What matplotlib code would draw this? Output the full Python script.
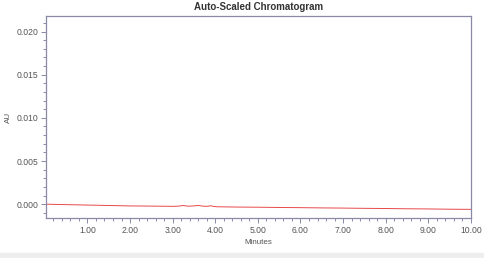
import matplotlib
matplotlib.use('Agg')
import matplotlib.pyplot as plt
from matplotlib.ticker import MultipleLocator

plt.rcParams['font.family'] = ['Liberation Sans', 'DejaVu Sans']

# Chromatogram trace (minutes, AU)
minutes = [0.03, 0.5, 1.0, 1.5, 2.0, 2.5, 3.0, 3.15, 3.25, 3.35, 3.5, 3.6, 3.7,
           3.8, 3.9, 3.95, 4.05, 4.5, 5.0, 5.5, 6.0, 6.5, 7.0, 7.5, 8.0, 8.5,
           9.0, 9.5, 10.0]
au = [0.0000, -0.00005, -0.0001, -0.00015, -0.0002, -0.00022, -0.00025,
      -0.00022, -0.00015, -0.00023, -0.0002, -0.00014, -0.00022, -0.00025,
      -0.00018, -0.00025, -0.0003, -0.00033, -0.00035, -0.00038, -0.0004,
      -0.00043, -0.00045, -0.00048, -0.0005, -0.00053, -0.00055, -0.00058,
      -0.0006]
x_ticks = [1, 2, 3, 4, 5, 6, 7, 8, 9, 10]
y_ticks = [0.000, 0.005, 0.010, 0.015, 0.020]

spine_col = '#8a8aa8'
text_col = '#555555'

fig = plt.figure(figsize=(4.85, 2.58), dpi=100)
fig.patches.append(plt.Rectangle((0, 0), 1, 0.02, transform=fig.transFigure,
                                 color='#eeeeee', zorder=0))
ax = fig.add_axes([0.095, 0.155, 0.876, 0.783])

ax.plot(minutes, au, color='#e8494b', lw=0.7)

ax.set_xlim(0.03, 10.0)
ax.set_ylim(-0.0016, 0.0218)
ax.set_xticks(x_ticks)
ax.set_xticklabels(['%.2f' % t for t in x_ticks])
ax.set_yticks(y_ticks)
ax.set_yticklabels(['%.3f' % t for t in y_ticks])
ax.xaxis.set_minor_locator(MultipleLocator(0.2))
ax.yaxis.set_minor_locator(MultipleLocator(0.001))

for s in ax.spines.values():
    s.set_color(spine_col)
    s.set_linewidth(0.9)
ax.tick_params(which='both', colors=spine_col, labelcolor=text_col,
               labelsize=6.2, width=0.7)
ax.tick_params(which='major', length=3.5, pad=2)
ax.tick_params(which='minor', length=2)

ax.set_xlabel('Minutes', fontsize=5.8, color=text_col, labelpad=3)
ax.set_ylabel('AU', fontsize=5.8, color=text_col, labelpad=3)
ax.set_title('Auto-Scaled Chromatogram', fontsize=7, fontweight='bold',
             color='#333333', pad=4)

plt.savefig('out.png', dpi=100)
plt.close()
